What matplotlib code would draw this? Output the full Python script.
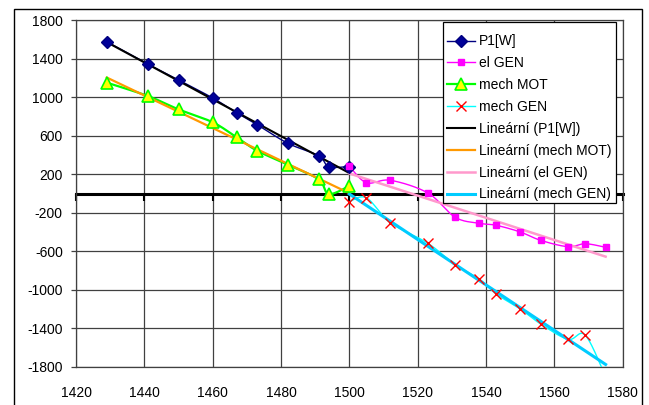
import matplotlib
matplotlib.use('Agg')
import matplotlib.pyplot as plt
import numpy as np
from matplotlib.lines import Line2D
from matplotlib.patches import Rectangle

plt.rcParams['font.family'] = ['Liberation Sans', 'DejaVu Sans']
plt.rcParams['font.size'] = 10
plt.rcParams['axes.unicode_minus'] = False

# ----------------------------- data ------------------------------------------
p1_x = [1429, 1441, 1450, 1460, 1467, 1473, 1482, 1491, 1494, 1500]
p1_y = [1575, 1343, 1178, 991, 838, 714, 521, 392, 278, 280]

mot_x = [1429, 1441, 1450, 1460, 1467, 1473, 1482, 1491, 1494, 1500]
mot_y = [1150, 1012, 873, 739, 583, 444, 299, 147, -5, 78]

elgen_x = [1500, 1505, 1512, 1523, 1531, 1538, 1543, 1550, 1556, 1564, 1569, 1575]
elgen_y = [282, 112, 137, 5, -247, -309, -330, -399, -486, -552, -521, -558]

mgen_x = [1500, 1505, 1512, 1523, 1531, 1538, 1543, 1550, 1556, 1564, 1569, 1575]
mgen_y = [-85, -45, -303, -517, -740, -887, -1043, -1198, -1354, -1513, -1468, -1900]

x_ticks = list(range(1420, 1581, 20))
y_ticks = list(range(-1800, 1801, 400))


def smooth(x, y, n=24):
    """Excel-like smoothed line (Catmull-Rom as cubic Bezier)."""
    pts = np.column_stack([x, y]).astype(float)
    out = [pts[0]]
    t = np.linspace(0, 1, n)[1:, None]
    for i in range(len(pts) - 1):
        p0 = pts[i - 1] if i > 0 else pts[i]
        p1, p2 = pts[i], pts[i + 1]
        p3 = pts[i + 2] if i + 2 < len(pts) else pts[i + 1]
        c1 = p1 + (p2 - p0) / 6
        c2 = p2 - (p3 - p1) / 6
        seg = ((1 - t) ** 3) * p1 + 3 * ((1 - t) ** 2) * t * c1 \
            + 3 * (1 - t) * t ** 2 * c2 + t ** 3 * p2
        out.extend(seg)
    out = np.array(out)
    return out[:, 0], out[:, 1]


def trend(x, y):
    k, q = np.polyfit(x, y, 1)
    xs = np.array([min(x), max(x)])
    return xs, k * xs + q


# ----------------------------- figure ----------------------------------------
W, H = 649, 405
fig = plt.figure(figsize=(W / 100, H / 100), dpi=100)
ax = fig.add_axes([76 / W, (H - 367) / H, (622.7 - 76) / W, (367 - 20) / H])

grid_c = '#404040'
ax.set_xlim(1420, 1580)
ax.set_ylim(-1800, 1800)
ax.set_xticks(x_ticks)
ax.set_yticks(y_ticks)
ax.grid(True, color=grid_c, linewidth=0.9)
ax.set_axisbelow(True)

for side in ['left', 'top', 'right']:
    ax.spines[side].set_color(grid_c)
    ax.spines[side].set_linewidth(0.9)

# thick zero axis with downward ticks
ax.spines['bottom'].set_position(('data', 0))
ax.spines['bottom'].set_linewidth(2.2)
ax.spines['bottom'].set_color('black')
ax.spines['bottom'].set_zorder(1.5)
ax.tick_params(axis='x', direction='out', length=5, width=1.5,
               labelbottom=False, color='black')
ax.tick_params(axis='y', direction='out', length=3.5, width=0.9,
               color=grid_c, pad=6, labelsize=10)

sec = ax.secondary_xaxis(0)
sec.set_xticks(x_ticks)
sec.tick_params(length=0, pad=14, labelsize=10)
sec.spines['bottom'].set_color(grid_c)
sec.spines['bottom'].set_linewidth(0.9)

# ----------------------------- series ----------------------------------------
sx, sy = smooth(p1_x, p1_y)
ax.plot(sx, sy, color='#000080', lw=1.0, zorder=3)
sx, sy = smooth(elgen_x, elgen_y)
ax.plot(sx, sy, color='#FF00FF', lw=1.0, zorder=3)
sx, sy = smooth(mot_x, mot_y)
ax.plot(sx, sy, color='#00FF00', lw=1.6, zorder=3)
sx, sy = smooth(mgen_x, mgen_y)
ax.plot(sx, sy, color='#00FFFF', lw=1.0, zorder=3)

tx, ty = trend(p1_x, p1_y)
ax.plot(tx, ty, color='black', lw=1.5, zorder=4)
tx, ty = trend(mot_x, mot_y)
ax.plot(tx, ty, color='#FF9900', lw=1.6, zorder=4)
tx, ty = trend(elgen_x, elgen_y)
ax.plot(tx, ty, color='#FF99CC', lw=1.8, zorder=4)
tx, ty = trend(mgen_x, mgen_y)
ax.plot(tx, ty, color='#00CCFF', lw=2.2, zorder=4)

ax.plot(p1_x, p1_y, ls='none', marker='D', ms=6, mfc='#000099',
        mec='#00007F', zorder=5)
ax.plot(elgen_x, elgen_y, ls='none', marker='s', ms=5, mfc='#FF00FF',
        mec='#FF00FF', zorder=5)
ax.plot(mot_x, mot_y, ls='none', marker='^', ms=8, mfc='#FFFF00',
        mec='#00FF00', mew=1.2, zorder=5)
ax.plot(mgen_x, mgen_y, ls='none', marker='x', ms=7, mec='#FF0000',
        mew=1.0, zorder=5)

# ----------------------------- legend ----------------------------------------
handles = [
    Line2D([], [], color='#000080', lw=1.0, marker='D', ms=6,
           mfc='#000099', mec='#00007F'),
    Line2D([], [], color='#FF00FF', lw=1.0, marker='s', ms=5,
           mfc='#FF00FF', mec='#FF00FF'),
    Line2D([], [], color='#00FF00', lw=1.6, marker='^', ms=8,
           mfc='#FFFF00', mec='#00FF00', mew=1.2),
    Line2D([], [], color='#00FFFF', lw=1.0, marker='x', ms=7,
           mec='#FF0000'),
    Line2D([], [], color='black', lw=1.5),
    Line2D([], [], color='#FF9900', lw=1.6),
    Line2D([], [], color='#FF99CC', lw=1.8),
    Line2D([], [], color='#00CCFF', lw=2.2),
]
labels = ['P1[W]', 'el GEN', 'mech MOT', 'mech GEN', 'Lineární (P1[W])',
          'Lineární (mech MOT)', 'Lineární (el GEN)', 'Lineární (mech GEN)']

# legend box drawn by hand (Excel puts rows lower than matplotlib would)
fig.patches.append(Rectangle((443 / W, 1 - 203 / H), (616 - 443) / W,
                             (203 - 22) / H, transform=fig.transFigure,
                             facecolor='white', edgecolor='black',
                             linewidth=0.9, zorder=9))
leg = fig.legend(handles, labels, loc='upper left',
                 bbox_to_anchor=(447 / W, 1 - 34.5 / H), borderaxespad=0,
                 fontsize=10, frameon=False, handlelength=2.0,
                 handletextpad=0.3, labelspacing=0.565, borderpad=0)
leg.set_zorder(10)

# outer chart border
fig.patches.append(Rectangle((14 / W, -0.05), (641.7 - 14) / W, 1.05 - 9 / H,
                             transform=fig.transFigure, fill=False,
                             edgecolor='black', linewidth=1.0, clip_on=False))

fig.savefig('out.png', dpi=100)
